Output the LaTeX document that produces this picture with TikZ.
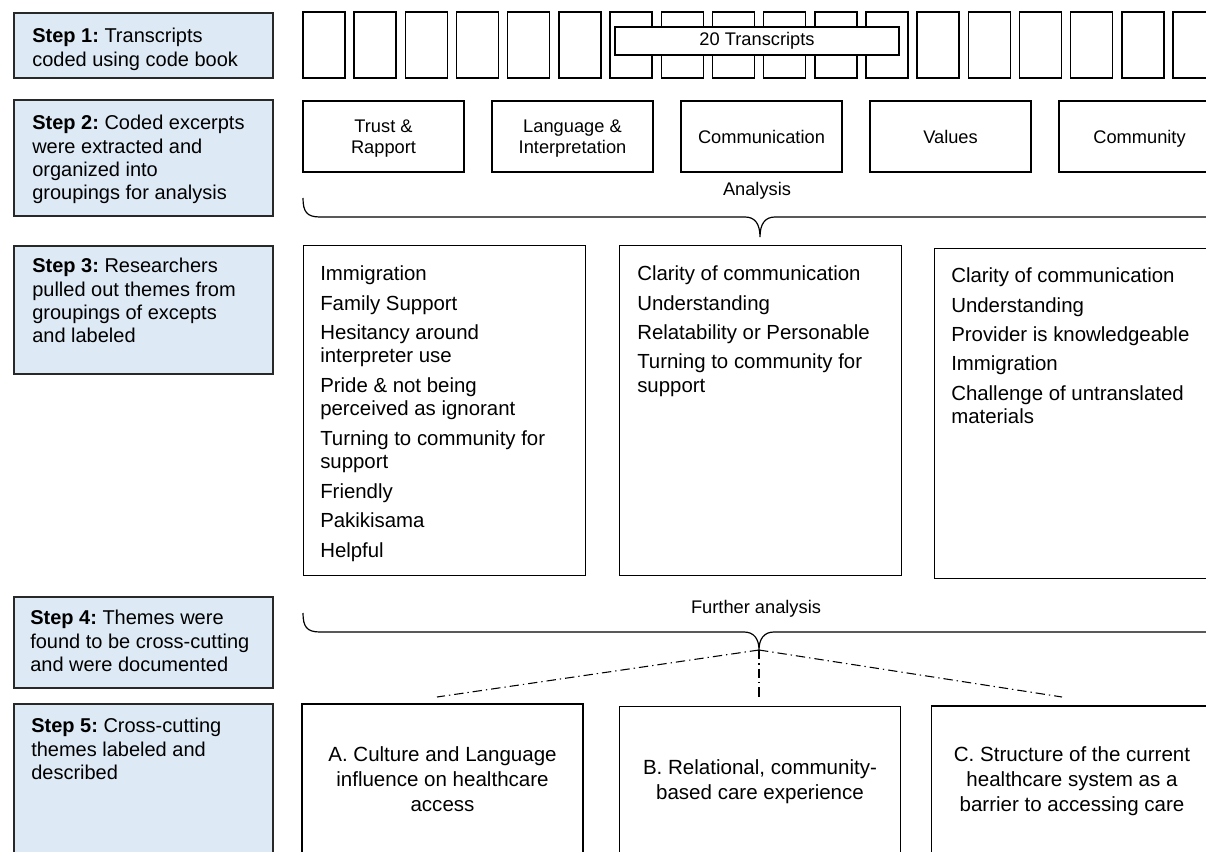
\documentclass[tikz,border=0pt]{standalone}
\usepackage{fontspec}
\setmainfont{Liberation Sans}
\usetikzlibrary{positioning}
\frenchspacing

\definecolor{stepfill}{RGB}{221,234,246}
\definecolor{stepline}{RGB}{40,40,40}

\tikzset{
  stepbox/.style={draw=stepline, line width=1.5pt, fill=stepfill, anchor=north west, inner sep=0pt, minimum width=194.25pt},
  steptext/.style={anchor=north west, inner sep=0pt, align=left, font=\fontsize{15}{17.5}\selectfont},
  tbox/.style={draw, line width=1.1pt, minimum width=31.5pt, minimum height=49.5pt, inner sep=0pt},
  countbox/.style={draw, line width=1.1pt, fill=white, minimum width=213pt, minimum height=21pt, inner sep=0pt, font=\fontsize{13.7}{16}\selectfont},
  groupbox/.style={draw, line width=1pt, minimum width=120.75pt, minimum height=53.25pt, align=center, inner sep=0pt, text depth=0pt, font=\fontsize{13.7}{15.8}\selectfont},
  themebox/.style={draw, line width=1.1pt, anchor=north west, minimum width=211.5pt, minimum height=247.5pt, inner sep=0pt},
  themelist/.style={anchor=north west, inner sep=0pt, align=left, font=\fontsize{15.3}{17.6}\selectfont},
  resultbox/.style={draw, line width=1.1pt, minimum width=210.75pt, minimum height=112.5pt, align=center, inner sep=0pt, font=\fontsize{15.4}{18.75}\selectfont},
  bracetext/.style={inner sep=0pt, font=\fontsize{13.7}{16}\selectfont},
  brace/.style={line width=0.9pt},
  fanline/.style={line width=0.8pt, dash pattern=on 7pt off 3pt on 1pt off 3pt}
}

\begin{document}
\begin{tikzpicture}[x=0.75pt,y=0.75pt,yscale=-1]
\useasboundingbox (0,0) rectangle (1206,852);

% Steps
\node[stepbox, minimum height=48.75pt] (step1) at (13,12) {};
\node[stepbox, minimum height=87pt]    (step2) at (13,99) {};
\node[stepbox, minimum height=96pt]    (step3) at (13,245) {};
\node[stepbox, minimum height=68.25pt] (step4) at (13,596) {};
\node[stepbox, minimum height=125.25pt] (step5) at (13,703) {};

\node[steptext] (step1text) at ([shift={(19,16)}]step1.north west) {\textbf{Step 1:} Transcripts\\coded using code book};
\node[steptext] (step2text) at ([shift={(19,16)}]step2.north west) {\textbf{Step 2:} Coded excerpts\\were extracted and\\organized into\\groupings for analysis};
\node[steptext] (step3text) at ([shift={(19,13)}]step3.north west) {\textbf{Step 3:} Researchers\\pulled out themes from\\groupings of excepts\\and labeled};
\node[steptext] (step4text) at ([shift={(17,14)}]step4.north west) {\textbf{Step 4:} Themes were\\found to be cross-cutting\\and were documented};
\node[steptext] (step5text) at ([shift={(18,15)}]step5.north west) {\textbf{Step 5:} Cross-cutting\\themes labeled and\\described};

% Transcripts
\foreach \i in {0,...,17}
  \node[tbox] (trans\i) at ({324+51.18*\i},45) {};
\node[countbox] (count) at (757,41) {20 Transcripts};

% Groupings
\node[groupbox] (trust) at (383.5,136.5) {Trust \&\\Rapport};
\node[groupbox, right=20pt of trust] (language) {Language \&\\Interpretation};
\node[groupbox, right=20pt of language] (communication) {Communication};
\node[groupbox, right=20pt of communication] (values) {Values};
\node[groupbox, right=20pt of values] (community) {Community};

% Analysis brace
\node[bracetext] (analysis) at (757,191) {Analysis};
\draw[brace] (303,198) .. controls (303,212) and (307,217) .. (320,217) -- (745,217)
  .. controls (755,217) and (760,224) .. (760,237)
  .. controls (760,224) and (765,217) .. (775,217) -- (1215,217);

% Themes
\node[themebox] (themeA) at (303,245) {};
\node[themebox] (themeB) at (619,245) {};
\node[themebox] (themeC) at (934,248) {};

\node[themelist] (listA) at ([shift={(17,20.5)}]themeA.north west) {Immigration\\[4.5pt]Family Support\\[4.5pt]Hesitancy around\\interpreter use\\[4.5pt]Pride \& not being\\perceived as ignorant\\[4.5pt]Turning to community for\\support\\[4.5pt]Friendly\\[4.5pt]Pakikisama\\[4.5pt]Helpful};
\node[themelist] (listB) at ([shift={(18,20.5)}]themeB.north west) {Clarity of communication\\[4.5pt]Understanding\\[4.5pt]Relatability or Personable\\[4.5pt]Turning to community for\\support};
\node[themelist] (listC) at ([shift={(17,19.5)}]themeC.north west) {Clarity of communication\\[4.5pt]Understanding\\[4.5pt]Provider is knowledgeable\\[4.5pt]Immigration\\[4.5pt]Challenge of untranslated\\materials};

% Further analysis brace
\node[bracetext] (further) at (756,609) {Further analysis};
\draw[brace] (303,613) .. controls (303,627) and (307,632) .. (320,632) -- (744,632)
  .. controls (754,632) and (759,639) .. (759,650)
  .. controls (759,639) and (764,632) .. (774,632) -- (1215,632);

% Cross-cutting themes
\coordinate (fork) at (759,650);
\coordinate (toA) at (437,697);
\coordinate (toB) at (759,697);
\coordinate (toC) at (1062,697);
\draw[fanline] (fork) -- (toA);
\draw[fanline] (fork) -- (toB);
\draw[fanline] (fork) -- (toC);

\node[resultbox] (resultA) at (442.5,779) {A. Culture and Language\\influence on healthcare\\access};
\node[resultbox] (resultB) at (760,781.5) {B. Relational, community-\\based care experience};
\node[resultbox] (resultC) at (1072,781) {C. Structure of the current\\healthcare system as a\\barrier to accessing care};

\end{tikzpicture}
\end{document}
